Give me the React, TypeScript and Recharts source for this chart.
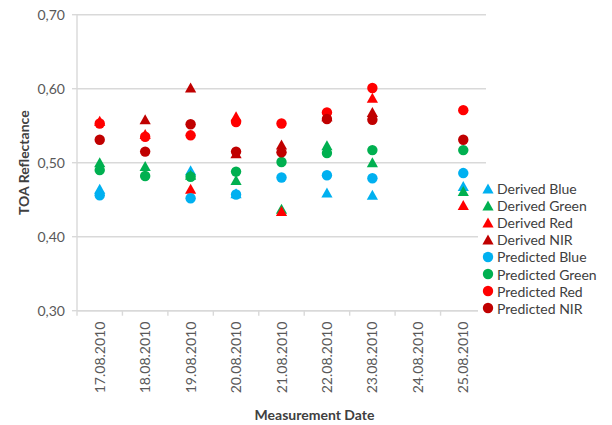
import React from 'react';
import { ScatterChart, Scatter, XAxis, YAxis, CartesianGrid, Legend } from 'recharts';

const categories = [
  '17.08.2010', '18.08.2010', '19.08.2010', '20.08.2010', '21.08.2010',
  '22.08.2010', '23.08.2010', '24.08.2010', '25.08.2010',
];

const derivedBlue = [0.464, null, 0.489, 0.458, null, 0.459, 0.456, null, 0.468];
const derivedGreen = [0.5, 0.495, 0.483, 0.476, 0.437, 0.523, 0.5, null, 0.461];
const derivedRed = [0.556, 0.538, 0.464, 0.562, 0.434, null, 0.587, null, 0.442];
const derivedNIR = [null, 0.558, 0.601, 0.512, 0.524, 0.562, 0.568, null, null];
const predictedBlue = [0.456, null, 0.452, 0.457, 0.48, 0.483, 0.479, null, 0.486];
const predictedGreen = [0.49, 0.482, 0.481, 0.488, 0.501, 0.513, 0.517, null, 0.517];
const predictedRed = [0.553, 0.535, 0.537, 0.555, 0.553, 0.568, 0.601, null, 0.571];
const predictedNIR = [0.531, 0.515, 0.552, 0.515, 0.514, 0.559, 0.558, null, 0.531];

const yTicks = [0.3, 0.4, 0.5, 0.6, 0.7];

const FONT = 'Lato, "Liberation Sans", sans-serif';
const GRID = '#d9d9d9';
const TEXT = '#595959';

type Series = { name: string; values: (number | null)[]; color: string; shape: 'triangle' | 'circle' };

const series: Series[] = [
  { name: 'Derived Blue', values: derivedBlue, color: '#00B0F0', shape: 'triangle' },
  { name: 'Derived Green', values: derivedGreen, color: '#00B050', shape: 'triangle' },
  { name: 'Derived Red', values: derivedRed, color: '#FF0000', shape: 'triangle' },
  { name: 'Derived NIR', values: derivedNIR, color: '#C00000', shape: 'triangle' },
  { name: 'Predicted Blue', values: predictedBlue, color: '#00B0F0', shape: 'circle' },
  { name: 'Predicted Green', values: predictedGreen, color: '#00B050', shape: 'circle' },
  { name: 'Predicted Red', values: predictedRed, color: '#FF0000', shape: 'circle' },
  { name: 'Predicted NIR', values: predictedNIR, color: '#C00000', shape: 'circle' },
];

const toPoints = (vals: (number | null)[]) =>
  vals
    .map((v, i) => (v == null ? null : { x: i + 1, y: v }))
    .filter((p) => p !== null) as { x: number; y: number }[];

// tick marks sit on the category boundaries
const boundaryTicks = categories.map((_, i) => i + 0.5).concat([categories.length + 0.5]);

function makeShape(s: Series) {
  return (props: any) => {
    const { cx, cy } = props;
    if (cx == null || cy == null) return null;
    if (s.shape === 'circle') {
      return <circle cx={cx} cy={cy} r={5.2} fill={s.color} />;
    }
    const pts = `${cx},${cy - 5.5} ${cx + 5.6},${cy + 4.5} ${cx - 5.6},${cy + 4.5}`;
    return <polygon points={pts} fill={s.color} />;
  };
}

function DateTick(props: any) {
  const { x, y, index, width } = props;
  if (index >= categories.length) return null;
  const band = (typeof width === 'number' && width > 0 ? width : 409) / categories.length;
  const cx = x + band / 2;
  return (
    <text
      x={cx}
      y={y}
      transform={`rotate(-90, ${cx}, ${y})`}
      textAnchor="end"
      dy="0.36em"
      fill={TEXT}
      fontSize={14}
      fontFamily={FONT}
    >
      {categories[index]}
    </text>
  );
}

function LegendBox() {
  return (
    <div style={{ background: '#fff', fontFamily: FONT, fontSize: 14, color: '#404040', paddingTop: 2 }}>
      {series.map((s) => (
        <div key={s.name} style={{ height: 17.1, display: 'flex', alignItems: 'center', whiteSpace: 'nowrap' }}>
          <svg width={12} height={12} style={{ marginLeft: 4, marginRight: 3 }}>
            {s.shape === 'circle' ? (
              <circle cx={6} cy={6} r={5.2} fill={s.color} />
            ) : (
              <polygon points="6,0.5 11.6,10.5 0.4,10.5" fill={s.color} />
            )}
          </svg>
          <span>{s.name}</span>
        </div>
      ))}
    </div>
  );
}

export default function App() {
  return (
    <div style={{ position: 'absolute', left: 0, top: 0, width: 612, height: 425, background: '#fff' }}>
      <ScatterChart width={612} height={425} margin={{ top: 14.7, right: 126, bottom: 0, left: 0 }}>
        <CartesianGrid vertical={false} stroke={GRID} strokeWidth={1.4} />
        <XAxis
          type="number"
          dataKey="x"
          domain={[0.5, categories.length + 0.5]}
          ticks={boundaryTicks}
          interval={0}
          tick={<DateTick />}
          height={114.3}
          tickSize={5}
          tickMargin={6}
          axisLine={{ stroke: GRID, strokeWidth: 1.4 }}
          tickLine={{ stroke: GRID, strokeWidth: 1.4 }}
          allowDataOverflow
          label={{
            content: (p: any) => {
              const vb = p.viewBox;
              return (
                <text
                  x={vb.x + vb.width / 2 + 33}
                  y={419.5}
                  textAnchor="middle"
                  fontFamily={FONT}
                  fontSize={14}
                  fontWeight="bold"
                  fill="#404040"
                >
                  Measurement Date
                </text>
              );
            },
          }}
        />
        <YAxis
          type="number"
          dataKey="y"
          domain={[0.3, 0.7]}
          ticks={yTicks}
          width={77}
          tickFormatter={(v: number) => v.toFixed(2).replace('.', ',')}
          tick={{ fill: TEXT, fontSize: 14, fontFamily: FONT }}
          tickSize={5}
          tickMargin={7}
          axisLine={{ stroke: GRID, strokeWidth: 1.4 }}
          tickLine={{ stroke: GRID, strokeWidth: 1.4 }}
          label={{
            content: (p: any) => {
              const vb = p.viewBox;
              const cx = 24;
              const cy = vb.y + vb.height / 2;
              return (
                <text
                  x={cx}
                  y={cy}
                  transform={`rotate(-90, ${cx}, ${cy})`}
                  textAnchor="middle"
                  dy="0.35em"
                  fontFamily={FONT}
                  fontSize={14}
                  fontWeight="bold"
                  fill="#404040"
                >
                  TOA Reflectance
                </text>
              );
            },
          }}
        />
        <Legend
          layout="vertical"
          align="center"
          verticalAlign="middle"
          content={() => <LegendBox />}
          wrapperStyle={{ left: 478, top: 178, width: 134 }}
        />
        {series.map((s) => (
          <Scatter
            key={s.name}
            name={s.name}
            data={toPoints(s.values)}
            fill={s.color}
            shape={makeShape(s)}
            isAnimationActive={false}
          />
        ))}
      </ScatterChart>
    </div>
  );
}
